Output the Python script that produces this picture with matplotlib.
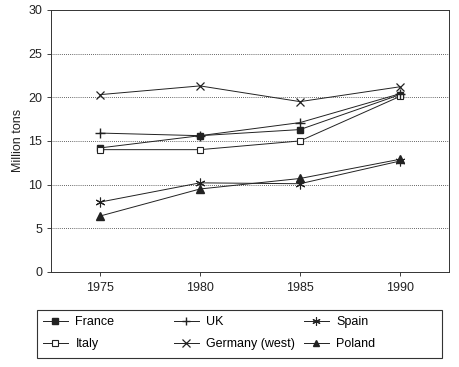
import matplotlib
matplotlib.use("Agg")
import matplotlib.pyplot as plt
from matplotlib.patches import Rectangle

plt.rcParams['font.family'] = ['Liberation Sans', 'DejaVu Sans']

years = [1975, 1980, 1985, 1990]
france = [14.2, 15.6, 16.3, 20.3]
uk = [15.9, 15.6, 17.1, 20.4]
spain = [8.0, 10.2, 10.1, 12.7]
italy = [14.0, 14.0, 15.0, 20.1]
germany = [20.3, 21.3, 19.5, 21.2]
poland = [6.4, 9.5, 10.7, 12.9]

yticks = [0, 5, 10, 15, 20, 25, 30]

fig = plt.figure(figsize=(4.6, 3.67), dpi=100)
ax = fig.add_axes([0.111, 0.259, 0.865, 0.714])

lc = '#222222'
kw = dict(color=lc, lw=0.7)
h_fr, = ax.plot(years, france, marker='s', ms=5, mfc=lc, mec=lc, label='France', **kw)
h_it, = ax.plot(years, italy, marker='s', ms=5, mfc='white', mec=lc, mew=0.8, label='Italy', **kw)
h_uk, = ax.plot(years, uk, marker='+', ms=7, mew=1.0, mec=lc, label='UK', **kw)
h_de, = ax.plot(years, germany, marker='x', ms=6, mew=0.9, mec=lc, label='Germany (west)', **kw)
h_es, = ax.plot(years, spain, marker=(6, 2, 0), ms=7, mew=0.8, mec=lc, label='Spain', **kw)
h_pl, = ax.plot(years, poland, marker='^', ms=5.5, mfc=lc, mec=lc, label='Poland', **kw)

ax.set_xlim(1972.55, 1992.45)
ax.set_ylim(0, 30)
ax.set_xticks(years)
ax.set_yticks(yticks)
for y in yticks[1:-1]:
    ax.axhline(y, color='#333333', lw=0.6, ls=(0, (1, 1.5)), zorder=0)
ax.tick_params(axis='both', length=3, width=0.6, labelsize=9, colors='#222222')
ax.tick_params(axis='x', pad=4)
for s in ax.spines.values():
    s.set_linewidth(0.7)
    s.set_color('#333333')
ax.set_ylabel('Million tons', fontsize=9, labelpad=3, color='#222222')

# legend frame
fig.add_artist(Rectangle((37 / 460, 1 - 358 / 367), 405 / 460, 48 / 367,
                         transform=fig.transFigure, fill=False,
                         edgecolor='#333333', lw=0.8))
cols = [([h_fr, h_it], 43), ([h_uk, h_de], 174), ([h_es, h_pl], 304)]
for hs, xpx in cols:
    lg = fig.legend(handles=hs, labels=[h.get_label() for h in hs],
                    loc='upper left', bbox_to_anchor=(xpx / 460, 1 - 316 / 367),
                    fontsize=9, frameon=False, borderaxespad=0, borderpad=0,
                    handlelength=2.0, handletextpad=0.6, labelspacing=0.8,
                    markerscale=0.85)

fig.savefig('out.png', dpi=100)
